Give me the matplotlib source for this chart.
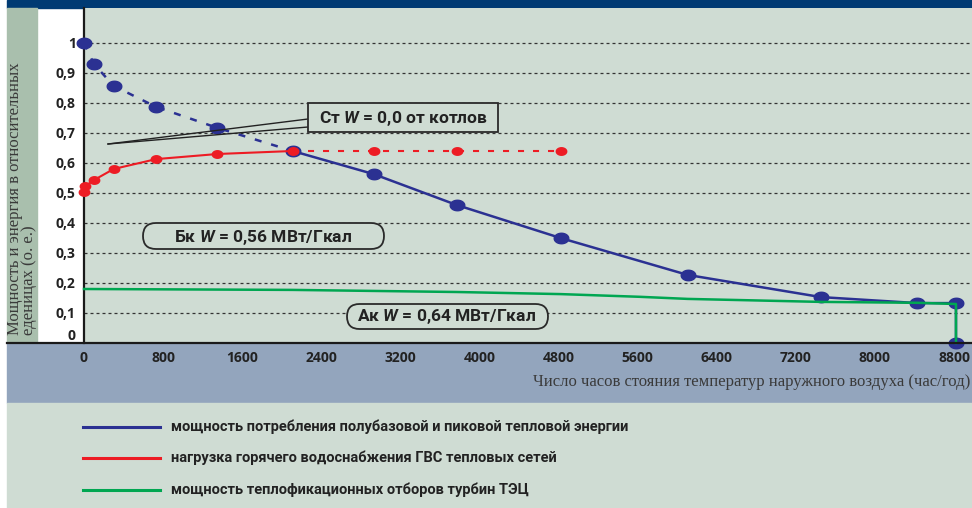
import numpy as np
import matplotlib
matplotlib.use('Agg')
import matplotlib.pyplot as plt
from matplotlib.path import Path
from matplotlib.patches import Rectangle, FancyBboxPatch
from matplotlib.lines import Line2D
from matplotlib.transforms import IdentityTransform

# --- data ---
hours_blue = [0, 100, 300, 730, 1350, 2110, 2930, 3770, 4820, 6105, 7455, 8430, 8820, 8820]
power_blue = [1.0, 0.93, 0.857, 0.787, 0.717, 0.64, 0.563, 0.46, 0.35, 0.227, 0.153, 0.133, 0.133, 0.0]
blue_split = 5  # dashed up to this index, solid after

hours_red = [0, 15, 100, 300, 730, 1350, 2110, 2930, 3770, 4820]
load_red = [0.503, 0.523, 0.543, 0.58, 0.613, 0.63, 0.64, 0.64, 0.64, 0.64]
red_split = 6  # solid up to this index, dashed after

hours_green = [0, 2110, 3770, 4820, 5620, 6105, 7455, 8430, 8820, 8820]
power_green = [0.18, 0.177, 0.17, 0.163, 0.154, 0.147, 0.137, 0.134, 0.13, 0.0]

x_ticks = list(range(0, 8801, 800))
y_ticks = [0, 0.1, 0.2, 0.3, 0.4, 0.5, 0.6, 0.7, 0.8, 0.9, 1.0]
y_ticklabels = ['0', '0,1', '0,2', '0,3', '0,4', '0,5', '0,6', '0,7', '0,8', '0,9', '1']

legend_labels = ['мощность потребления полубазовой и пиковой тепловой энергии',
                 'нагрузка горячего водоснабжения ГВС тепловых сетей',
                 'мощность теплофикационных отборов турбин ТЭЦ']

BLUE = '#2b3192'
RED = '#ed1c24'
GREEN = '#00a651'
BG = '#cfdcd3'

NARROW = ['Roboto', 'DejaVu Sans']
plt.rcParams['mathtext.fontset'] = 'custom'
plt.rcParams['mathtext.it'] = 'Roboto:style=italic:weight=bold'

W, H = 972, 508
fig = plt.figure(figsize=(W / 100, H / 100), dpi=100)


def fx(px):
    return px / W


def fy(py):
    return 1 - py / H


# background bands
bands = [((7, 8), 965, 8, '#003a73'),
         ((7, 343), 30, 335, '#a9bfad'),
         ((7, 403), 965, 60, '#93a5bd'),
         ((7, 508), 965, 105, BG)]
for (x0, y0), w, h, c in bands:
    fig.patches.append(Rectangle((fx(x0), fy(y0)), w / W, h / H, transform=fig.transFigure,
                                 color=c, zorder=-2))
fig.lines.append(Line2D([fx(7), 1], [fy(343), fy(343)], transform=fig.transFigure, color='#1a1a1a',
                        lw=1.6, zorder=5))

ax = fig.add_axes([fx(84), fy(343), fx(972 - 84), (343 - 8) / H])
ax.set_facecolor(BG)
ax.set_xlim(0, 8800 * (972 - 84) / 870)
ax.set_ylim(0, (343 - 8) / 300)

for s in ['top', 'right', 'bottom']:
    ax.spines[s].set_visible(False)
ax.spines['left'].set_linewidth(1.6)
ax.spines['left'].set_color('#1a1a1a')

ax.set_yticks(y_ticks)
ax.set_yticklabels(y_ticklabels, fontsize=10, fontweight='bold', color='#222222',
                   family=['Open Sans', 'DejaVu Sans'])
ax.yaxis.get_ticklabels()[0].set_va('bottom')
ax.yaxis.grid(True, color='#333333', lw=0.9, linestyle=(0, (2.4, 2.4)))
ax.yaxis.get_gridlines()[0].set_visible(False)
ax.set_axisbelow(True)
ax.tick_params(axis='y', length=0, pad=6)

ax.set_xticks(x_ticks)
ax.set_xticklabels([str(v) for v in x_ticks], fontsize=10, fontweight='bold', color='#222222',
                   family=['Open Sans', 'DejaVu Sans'])
ax.tick_params(axis='x', length=0, pad=6)

# elliptic markers
t = np.linspace(0, 2 * np.pi, 40)
ell = Path(np.c_[np.cos(t), 0.72 * np.sin(t)], closed=True)

# blue
ax.plot(hours_blue[:blue_split + 1], power_blue[:blue_split + 1], color=BLUE, lw=1.8,
        dashes=(2.8, 4), zorder=3, clip_on=False)
ax.plot(hours_blue[blue_split:], power_blue[blue_split:], color=BLUE, lw=1.8, zorder=3, clip_on=False)
ax.plot(hours_blue, power_blue, ls='none', marker=ell, ms=10.5, color=BLUE, zorder=3, clip_on=False)

# green
ax.plot(hours_green, power_green, color=GREEN, lw=1.8, zorder=4, clip_on=False)

# red
ax.plot(hours_red[:red_split + 1], load_red[:red_split + 1], color=RED, lw=1.5, zorder=5, clip_on=False)
ax.plot(hours_red[red_split:], load_red[red_split:], color=RED, lw=1.5, dashes=(2.9, 4.3), zorder=5)
ax.plot(hours_red, load_red, ls='none', marker=ell, ms=7.5, color=RED, zorder=5, clip_on=False)

# annotation boxes (pixel coordinates of the picture)
px = IdentityTransform()


def box_rect(x0, y0, x1, y1, rounded):
    if rounded:
        r = (y1 - y0) / 2
        p = FancyBboxPatch((x0, H - y1), x1 - x0, y1 - y0,
                           boxstyle='round,pad=0,rounding_size=%g' % r,
                           transform=px, fc=BG, ec='#2a2a2a', lw=1.3, zorder=6)
    else:
        p = Rectangle((x0, H - y1), x1 - x0, y1 - y0, transform=px, fc=BG, ec='#2a2a2a', lw=1.3, zorder=6)
    fig.patches.append(p)


box_rect(308, 103, 498, 132, False)
fig.lines.append(Line2D([108, 308], [H - 144, H - 119], transform=px, color='#222222', lw=1.0, zorder=6))
fig.lines.append(Line2D([108, 308], [H - 144, H - 127], transform=px, color='#222222', lw=1.0, zorder=6))
fig.text(fx(403), fy(118), 'Ст $W$ = 0,0 от котлов', ha='center', va='center', fontsize=12.5,
         fontweight='bold', color='#222222', family=NARROW, zorder=7)

box_rect(143, 223, 384, 249, True)
fig.text(fx(263), fy(237), 'Бк $W$ = 0,56 МВт/Гкал', ha='center', va='center', fontsize=12.5,
         fontweight='bold', color='#222222', family=NARROW, zorder=7)

box_rect(347, 304, 548, 329, True)
fig.text(fx(447), fy(317), 'Ак $W$ = 0,64 МВт/Гкал', ha='center', va='center', fontsize=12.5,
         fontweight='bold', color='#222222', family=NARROW, zorder=7)

# axis titles
fig.text(fx(22), fy(335), 'Мощность и энергия в относительных\nеденицах (о. е.)', rotation=90,
         ha='center', va='bottom', multialignment='left', fontsize=12, linespacing=0.85,
         color='#3a3a3a', family=['Liberation Serif', 'DejaVu Serif'])
fig.text(fx(970), fy(382), 'Число часов стояния температур наружного воздуха (час/год)', ha='right',
         va='center', fontsize=12, color='#3a3a3a', family=['Liberation Serif', 'DejaVu Serif'])

# legend
for ypx, col, lab in zip([427, 458, 490], [BLUE, RED, GREEN], legend_labels):
    fig.lines.append(Line2D([fx(83), fx(160)], [fy(ypx), fy(ypx)], transform=fig.transFigure,
                            color=col, lw=2.2))
    fig.text(fx(171), fy(ypx), lab, ha='left', va='center', fontsize=10.5, fontweight='bold',
             color='#222222', family=NARROW)

fig.savefig('out.png', dpi=100, facecolor='white')
